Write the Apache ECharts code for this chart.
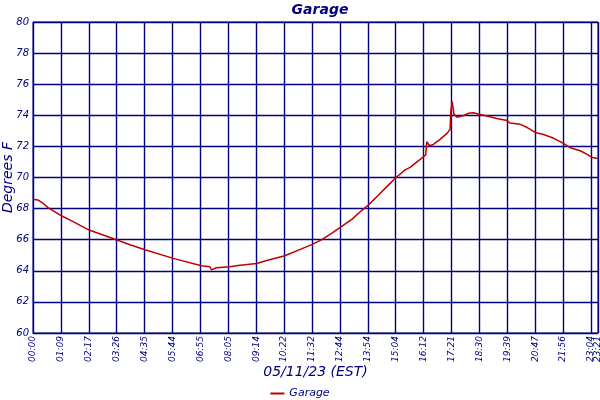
<!DOCTYPE html>
<html>
<head>
<meta charset="utf-8">
<script src="https://cdn.jsdelivr.net/npm/echarts@6/dist/echarts.min.js"></script>
<style>
  html, body { margin: 0; padding: 0; background: #fff; }
  #chart { width: 600px; height: 400px; }
</style>
</head>
<body>
<div id="chart"></div>
<script>
// time labels shown under every 8th sample (last one is the final sample)
const tickLabels = [
  '00:00', '01:09', '02:17', '03:26', '04:35', '05:44', '06:55', '08:05',
  '09:14', '10:22', '11:32', '12:44', '13:54', '15:04', '16:12', '17:21',
  '18:30', '19:39', '20:47', '21:56', '23:04', '23:21',
]
const tickStep = 8
const lastSample = 162

// sample position along the day
const pos = [
  0, 1.4, 2.9, 4.3, 7.7, 11.5, 16.1, 23.9, 27.8, 32.1,
  40.2, 48.3, 50.7, 51.2, 52.6, 56.5, 58.8, 64.1, 67.5, 72.0,
  76.1, 80.1, 82.8, 85.6, 88.0, 91.4, 94.3, 96.2, 99.0, 101.9,
  104.1, 106.7, 108.1, 111.0, 112.6, 112.9, 113.1, 113.7, 114.8, 116.7,
  118.7, 119.6, 119.8, 120.2, 120.7, 121.6, 123.4, 124.9, 126.3, 127.7,
  130.1, 133.0, 135.9, 136.8, 139.7, 141.6, 144.0, 146.4, 149.3, 152.1,
  154.1, 156.9, 158.8, 160.3, 162,
]

// garage temperature, degrees F
const garage = [
  68.60, 68.56, 68.34, 68.06, 67.59, 67.16, 66.62, 66.00, 65.68, 65.35,
  64.80, 64.32, 64.26, 64.06, 64.20, 64.26, 64.34, 64.47, 64.69, 64.95,
  65.33, 65.70, 66.00, 66.41, 66.77, 67.31, 67.89, 68.24, 68.86, 69.51,
  70.00, 70.49, 70.65, 71.16, 71.45, 72.30, 72.24, 72.04, 72.13, 72.45,
  72.84, 73.10, 74.28, 74.88, 74.06, 73.87, 73.98, 74.13, 74.17, 74.09,
  73.96, 73.80, 73.66, 73.50, 73.42, 73.23, 72.90, 72.77, 72.52, 72.19,
  71.91, 71.72, 71.50, 71.28, 71.22,
]

const navy = '#000080'
const font = 'DejaVu Sans'

// where each time label sits along the axis
const labelAt = tickLabels.map((t, i) => Math.min(i * tickStep, lastSample))
const timeAt = v => tickLabels[labelAt.indexOf(v)]

const xLabel = {
  rotate: 90,
  margin: 3,
  color: navy,
  fontFamily: font,
  fontStyle: 'italic',
  fontSize: 9,
  showMinLabel: true,
  showMaxLabel: true,
  hideOverlap: false,
  formatter: timeAt,
}

echarts.init(document.getElementById('chart')).setOption({
  animation: false,
  title: {
    text: 'Garage',
    left: 315,
    textAlign: 'center',
    top: -2,
    textStyle: {
      color: navy,
      fontFamily: font,
      fontStyle: 'italic',
      fontWeight: 'bold',
      fontSize: 14,
    },
  },
  legend: {
    data: ['Garage'],
    bottom: 1,
    left: 'center',
    padding: 0,
    icon: 'rect',
    itemWidth: 14,
    itemHeight: 2,
    itemGap: 4,
    textStyle: {
      color: navy,
      fontFamily: font,
      fontStyle: 'italic',
      fontSize: 11,
    },
  },
  grid: {
    left: 33,
    right: 2,
    top: 22,
    bottom: 67,
    outerBoundsMode: 'none',
    containLabel: false,
    show: true,
    borderColor: navy,
    borderWidth: 1,
  },
  xAxis: [
    {
      type: 'value',
      position: 'bottom',
      min: 0,
      max: lastSample,
      interval: tickStep,
      name: '05/11/23 (EST)',
      nameLocation: 'middle',
      nameGap: 32,
      nameMoveOverlap: false,
      nameTextStyle: {
        color: navy,
        fontFamily: font,
        fontStyle: 'italic',
        fontSize: 14,
      },
      axisLine: { lineStyle: { color: navy } },
      axisTick: { show: false },
      splitLine: { show: true, lineStyle: { color: navy, width: 1.4 } },
      axisLabel: { ...xLabel, customValues: labelAt.slice(0, -1) },
    },
    {
      // carries only the final time label, which sits on top of 23:04
      type: 'value',
      position: 'bottom',
      offset: 0,
      min: 0,
      max: lastSample,
      axisLine: { show: false },
      axisTick: { show: false },
      splitLine: { show: false },
      axisLabel: { ...xLabel, customValues: labelAt.slice(-1) },
    },
  ],
  yAxis: {
    type: 'value',
    min: 60,
    max: 80,
    interval: 2,
    name: 'Degrees F',
    nameLocation: 'middle',
    nameGap: 18,
    nameMoveOverlap: false,
    nameTextStyle: {
      color: navy,
      fontFamily: font,
      fontStyle: 'italic',
      fontSize: 14,
    },
    axisLine: { show: true, lineStyle: { color: navy } },
    axisTick: { show: false },
    splitLine: { show: true, lineStyle: { color: navy, width: 1.4 } },
    axisLabel: {
      margin: 4,
      color: navy,
      fontFamily: font,
      fontStyle: 'italic',
      fontSize: 10,
    },
  },
  series: [
    {
      name: 'Garage',
      type: 'line',
      symbol: 'none',
      xAxisIndex: 0,
      data: pos.map((p, i) => [p, garage[i]]),
      lineStyle: { color: '#c00000', width: 1.5 },
      itemStyle: { color: '#c00000' },
    },
  ],
})
</script>
</body>
</html>
